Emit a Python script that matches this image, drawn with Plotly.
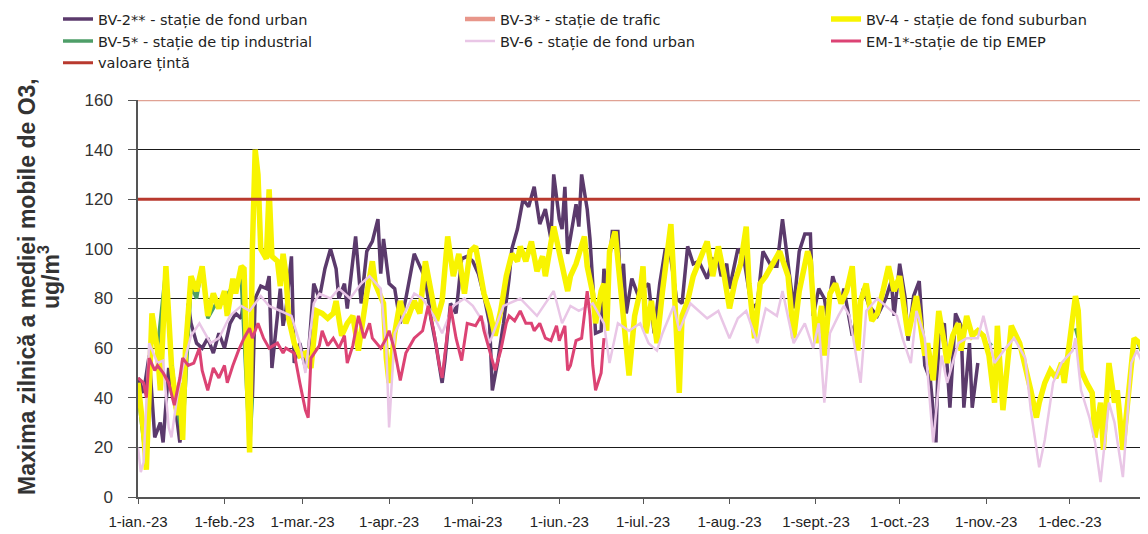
import plotly.graph_objects as go
import pandas as pd

BASE = pd.Timestamp("2023-01-01")

# ---- data: (day of year index, value) ----
bv2 = [(0,48),(2,42),(4,57),(6,24),(8,30),(9,22),(11,52),(13,40),(15,22),(16,30),(18,78),(19,70),(21,62),(23,60),
       (25,64),(27,58),(29,66),(31,60),(33,70),(35,74),(37,72),(38,80),(40,48),(41,40),(42,80),(44,85),(46,84),(47,89),
       (48,52),(49,62),(51,84),(52,69),(53,75),(55,97),(56,54),(58,62),(60,52),(61,56),(63,86),(65,80),(67,92),(69,100),
       (71,92),(72,80),(74,86),(75,76),(77,95),(78,105),(80,78),(82,99),(84,103),(86,112),(87,90),(88,104),(90,86),
       (92,84),(94,70),(96,80),(99,98),(101,93),(103,88),(105,72),(107,60),(109,46),(110,55),(112,78),(114,74),(116,96),
       (118,97),(120,95),(122,90),(124,81),(126,70),(127,43),(129,55),(131,70),(133,88),(134,100),(136,108),(138,120),
       (140,117),(142,125),(144,110),(146,116),(148,104),(149,130),(151,112),(152,108),(153,125),(154,98),(155,105),
       (157,118),(158,109),(159,130),(161,116),(162,104),(163,86),(164,66),(166,67),(167,92),(168,83),(170,107),
       (172,107),(173,83),(174,94),(175,74),(177,88),(179,82),(181,84),(183,86),(185,66),(187,86),(189,100),(191,96),
       (193,80),(195,78),(197,101),(199,94),(201,95),(204,88),(206,96),(208,95),(209,89),(211,94),(212,84),(215,100),
       (217,97),(220,76),(222,78),(224,99),(227,93),(229,93),(231,112),(233,95),(235,76),(237,99),(239,106),(241,106),
       (242,73),(244,84),(246,80),(247,73),(249,89),(252,78),(253,84),(256,65),(258,75),(260,84),(262,77),(265,73),
       (268,80),(270,87),(271,73),(273,94),(275,80),(276,63),(278,81),(280,87),(282,53),(284,47),(286,22),(287,65),
       (289,70),(291,36),(293,74),(295,69),(296,36),(298,62),(299,36),(301,54)]

bv4 = [(0,46),(2,26),(3,11),(5,74),(7,59),(8,43),(10,93),(12,53),(14,33),(15,46),(16,23),(17,59),(19,89),(21,83),
       (23,93),(25,73),(27,82),(29,76),(31,83),(32,73),(34,88),(35,82),(37,93),(38,92),(40,18),(41,100),(42,140),
       (43,130),(44,100),(46,96),(47,124),(48,97),(50,95),(51,85),(52,98),(53,90),(54,72),(56,62),(58,57),(60,58),
       (62,52),(64,75),(66,74),(68,72),(70,74),(71,79),(73,65),(75,70),(77,73),(79,59),(82,82),(84,95),(85,86),
       (88,78),(89,56),(90,46),(92,66),(94,79),(96,70),(99,79),(101,74),(103,95),(105,83),(107,71),(109,79),(111,105),
       (113,89),(115,98),(117,82),(119,99),(121,101),(124,82),(126,75),(128,65),(130,75),(132,89),(134,98),(136,95),
       (137,101),(139,95),(141,103),(143,91),(145,97),(146,89),(149,109),(152,93),(154,83),(155,89),(157,94),(160,105),
       (161,93),(163,82),(164,70),(166,83),(167,86),(168,67),(169,99),(171,107),(173,82),(175,59),(176,49),(178,73),
       (180,83),(181,93),(182,66),(184,79),(186,62),(188,83),(190,99),(191,110),(192,89),(194,42),(195,73),(197,79),
       (199,89),(202,97),(204,103),(206,89),(208,101),(210,90),(212,76),(214,87),(216,94),(218,109),(219,86),(221,64),
       (223,86),(225,89),(228,95),(230,99),(233,89),(235,64),(237,83),(240,99),(241,95),(243,62),(245,77),(246,57),
       (248,82),(250,86),(252,78),(254,83),(256,93),(258,59),(259,79),(261,86),(263,71),(265,74),(267,83),(269,93),
       (271,83),(273,89),(276,65),(277,70),(279,81),(282,57),(283,62),(285,47),(287,75),(289,62),(290,54),(292,65),
       (294,70),(295,59),(297,73),(299,65),(301,67),(303,65),(305,57),(307,38),(308,69),(310,35),(313,69),(316,62),
       (318,53),(320,43),(322,32),(323,38),(325,46),(327,51),(329,48),(331,54),(332,46),(334,62),(336,81),(337,75),
       (338,51),(340,46),(342,42),(343,24),(345,38),(346,19),(348,54),(350,38),(351,43),(353,19),(355,43),(357,64),
       (359,62),(360,59),(362,54)]

bv5 = [(0,42),(3,13),(5,70),(7,60),(10,92),(12,55),(14,35),(16,25),(19,85),(21,80),(23,93),(25,72),(28,78),
       (31,80),(34,85),(37,88),(40,19),(41,40),(42,None),(304,60),(306,62),(307,None),(336,68),(338,60),(339,None),
       (358,63),(360,58)]

bv6 = [(0,20),(1,10),(2,14),(4,62),(7,54),(9,55),(11,28),(12,24),(14,40),(16,52),(19,65),(22,70),(26,62),(29,64),
       (33,73),(37,77),(40,75),(44,81),(47,77),(51,75),(55,73),(58,62),(60,50),(63,78),(65,82),(69,80),(72,84),(76,80),
       (80,86),(83,89),(87,84),(89,60),(90,28),(92,66),(95,73),(99,82),(102,80),(106,73),(109,66),(113,77),(117,80),
       (120,77),(124,70),(126,62),(131,77),(137,80),(143,73),(149,83),(152,70),(155,77),(158,75),(163,78),(167,70),
       (169,54),(172,70),(176,67),(180,70),(183,62),(186,59),(188,66),(192,77),(194,67),(198,78),(202,74),(204,72),
       (208,75),(212,64),(215,72),(218,75),(222,62),(225,76),(229,73),(231,83),(235,62),(239,70),(242,60),(244,70),
       (246,38),(248,66),(251,73),(253,77),(255,73),(259,46),(261,75),(265,80),(268,77),(272,73),(274,64),(277,54),
       (279,75),(282,64),(285,22),(288,57),(290,46),(294,62),(297,64),(301,64),(303,73),(307,54),(311,60),(314,64),
       (318,56),(320,35),(323,12),(325,23),(328,46),(331,54),(335,59),(336,64),(338,43),(341,32),(343,22),(345,6),
       (348,38),(350,30),(353,8),(354,23),(356,54),(358,59),(360,54),(362,46)]

em1 = [(0,48),(2,46),(3,40),(4,56),(6,51),(7,53),(9,50),(11,46),(13,37),(15,48),(16,56),(18,53),(20,54),(22,60),
       (23,51),(25,43),(27,52),(29,48),(31,53),(32,46),(34,53),(36,59),(38,64),(40,68),(41,64),(43,70),(45,64),(47,60),
       (50,62),(52,58),(53,60),(56,58),(58,46),(60,35),(61,32),(62,56),(65,61),(66,67),(68,61),(70,64),(72,60),(74,65),
       (75,54),(77,61),(79,73),(81,64),(83,70),(84,64),(87,60),(89,64),(90,67),(92,59),(94,47),(96,58),(99,64),
       (100,65),(102,67),(104,77),(106,67),(108,53),(109,48),(111,67),(112,77),(114,64),(116,55),(118,70),(121,69),
       (123,73),(124,67),(126,59),(128,51),(130,59),(132,70),(133,73),(135,71),(137,75),(139,70),(141,70),(142,67),
       (144,70),(146,64),(148,63),(150,69),(151,63),(153,69),(154,51),(155,53),(157,63),(159,64),(161,83),(162,73),
       (163,53),(164,43),(166,50),(167,64)]

target_days = [0, 364]
target_vals = [120, 120]
top_line = 160

month_starts = ["2023-01-01","2023-02-01","2023-03-01","2023-04-01","2023-05-01","2023-06-01",
                "2023-07-01","2023-08-01","2023-09-01","2023-10-01","2023-11-01","2023-12-01"]
month_labels = ["1-ian.-23","1-feb.-23","1-mar.-23","1-apr.-23","1-mai-23","1-iun.-23",
                "1-iul.-23","1-aug.-23","1-sept.-23","1-oct.-23","1-nov.-23","1-dec.-23"]

ytitle_line1 = "Maxima zilnică a mediei mobile de O3,"
ytitle_line2 = "ug/m<sup>3</sup>"


def xy(pairs):
    return [BASE + pd.Timedelta(days=d) for d, _ in pairs], [v for _, v in pairs]


fig = go.Figure()

x, y = xy(bv2)
fig.add_trace(go.Scatter(x=x, y=y, mode="lines", name="BV-2** - stație de fond urban",
                         line=dict(color="#5b3a6c", width=3.5), legend="legend", legendrank=1))
fig.add_trace(go.Scatter(x=[None], y=[None], mode="lines", name="BV-3* - stație de trafic",
                         line=dict(color="#e8968a", width=4.5), legend="legend2", legendrank=1))
x, y = xy(bv5)
fig.add_trace(go.Scatter(x=x, y=y, mode="lines", name="BV-5* - stație de tip industrial",
                         line=dict(color="#4e9e68", width=3.5), legend="legend", legendrank=2,
                         connectgaps=False))
x, y = xy(bv4)
fig.add_trace(go.Scatter(x=x, y=y, mode="lines", name="BV-4 - stație de fond suburban",
                         line=dict(color="#f8f400", width=5.5), legend="legend3", legendrank=1))
x, y = xy(bv6)
fig.add_trace(go.Scatter(x=x, y=y, mode="lines", name="BV-6 - stație de fond urban",
                         line=dict(color="#e9c6e6", width=2.5), legend="legend2", legendrank=2))
x, y = xy(em1)
fig.add_trace(go.Scatter(x=x, y=y, mode="lines", name="EM-1*-stație de tip EMEP",
                         line=dict(color="#dc4374", width=3), legend="legend3", legendrank=2))
fig.add_trace(go.Scatter(x=[BASE + pd.Timedelta(days=d) for d in target_days], y=target_vals,
                         mode="lines", name="valoare țintă",
                         line=dict(color="#b8392e", width=2.8), legend="legend", legendrank=3))

legend_font = dict(family="DejaVu Sans", size=14.5, color="#222")
common_leg = dict(xref="container", yref="paper", y=1.244, yanchor="top", xanchor="left",
                  orientation="v", font=legend_font, bgcolor="rgba(0,0,0,0)", itemwidth=30,
                  traceorder="normal")

fig.update_layout(
    width=1148, height=534,
    margin=dict(l=130, r=8, t=92, b=45, autoexpand=False),
    paper_bgcolor="white", plot_bgcolor="white",
    legend=dict(x=50/1148, **common_leg),
    legend2=dict(x=452/1148, **common_leg),
    legend3=dict(x=818/1148, **common_leg),
    xaxis=dict(type="date", range=[BASE, BASE + pd.Timedelta(days=362)],
               tickvals=month_starts, ticktext=month_labels, tickangle=0, automargin=False,
               ticks="outside", ticklen=5, tickcolor="#555", showline=True, linecolor="#555",
               linewidth=1.5, showgrid=False, zeroline=False,
               tickfont=dict(family="Liberation Sans", size=15, color="#222"),
               ticklabelstandoff=5),
    yaxis=dict(range=[0, 160], dtick=20, tick0=0, showgrid=True, gridcolor="#1a1a1a", gridwidth=1.3,
               showline=True, linecolor="#555", linewidth=1.5, ticks="outside", ticklen=8,
               tickcolor="#555", zeroline=False, automargin=False,
               tickfont=dict(family="Liberation Sans", size=17, color="#333"),
               ticklabelstandoff=12),
    shapes=[dict(type="line", xref="paper", x0=0, x1=1, yref="y", y0=top_line, y1=top_line,
                 line=dict(color="#e0a294", width=2.5), layer="above")],
    annotations=[
        dict(text="<b>" + ytitle_line1 + "</b>", textangle=-90, xref="paper", yref="paper",
             x=(19-130)/1010, y=(489-279)/397, xanchor="center", yanchor="middle", showarrow=False,
             font=dict(family="Liberation Sans", size=23, color="#333")),
        dict(text="<b>" + ytitle_line2 + "</b>", textangle=-90, xref="paper", yref="paper",
             x=(41-130)/1010, y=(489-269)/397, xanchor="center", yanchor="middle", showarrow=False,
             font=dict(family="Liberation Sans", size=23, color="#333")),
    ],
)

fig.write_html("out.html")
